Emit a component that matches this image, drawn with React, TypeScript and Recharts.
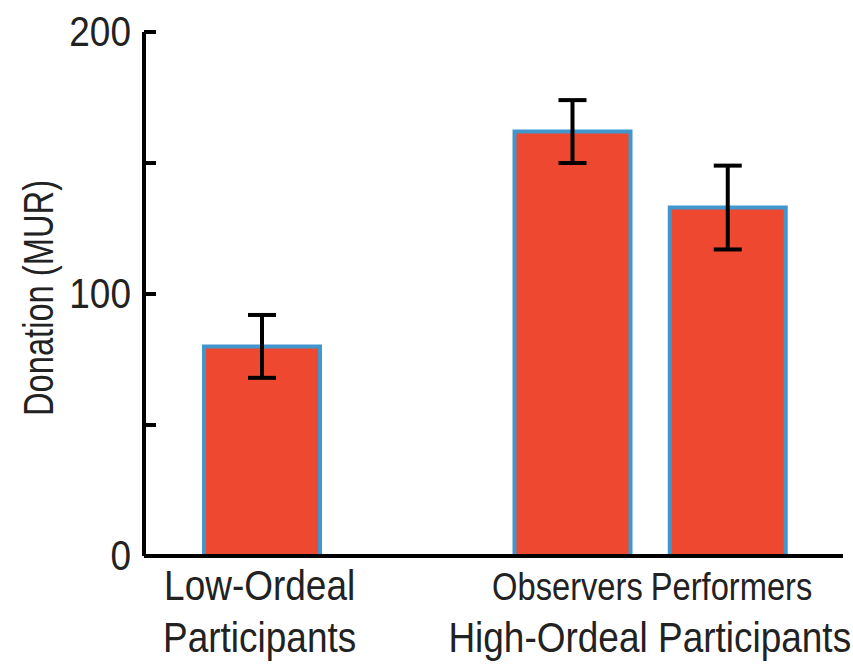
import { BarChart, Bar, XAxis, YAxis, ErrorBar } from "recharts"

// categories (one empty slot keeps the gap between the two groups)
const categories = ["low", "gap", "observers", "performers"]
const donations = [80, null, 162, 133]
const errors = [12, null, 12, 16]
const labelLine1 = ["Low-Ordeal", "", "Observers", "Performers"]
const labelLine2 = ["Participants", "", "", ""]
const groupLabel = "High-Ordeal Participants"
const yTicks = [0, 50, 100, 150, 200]
const yLabeled = [0, 100, 200]

const data = categories.map((c, i) => ({
  cat: c,
  donation: donations[i],
  err: errors[i],
}))

const FONT = "'Liberation Sans', Arial, sans-serif"
const TEXT = "#222"

// no narrow font installed, so squeeze the regular one horizontally
const Narrow = ({ x, y, anchor = "middle", rotate = 0, sx = 0.86, size = 43, children }: any) => (
  <g transform={`translate(${x},${y}) rotate(${rotate}) scale(${sx},1)`}>
    <text x={0} y={0} textAnchor={anchor} fontFamily={FONT} fontSize={size} fill={TEXT}>
      {children}
    </text>
  </g>
)

const XTick = ({ x, y, payload }: any) => {
  const i = payload.index
  const half = payload.offset || 77
  const cat = categories[i]
  // the two sub-labels sit in a smaller size, pushed apart to their band edges
  if (cat === "observers") {
    return (
      <g>
        <Narrow x={x + half - 7} y={y + 44} anchor="end" size={38}>{labelLine1[i]}</Narrow>
        <Narrow x={x + half} y={y + 96}>{groupLabel}</Narrow>
      </g>
    )
  }
  if (cat === "performers") {
    return <Narrow x={x - half + 1} y={y + 44} anchor="start" size={38}>{labelLine1[i]}</Narrow>
  }
  return (
    <g>
      {labelLine1[i] && <Narrow x={x - 2} y={y + 44}>{labelLine1[i]}</Narrow>}
      {labelLine2[i] && <Narrow x={x - 2} y={y + 96}>{labelLine2[i]}</Narrow>}
    </g>
  )
}

const YTick = ({ x, y, payload }: any) => (
  <g>
    <line x1={x} y1={y} x2={x + 12} y2={y} stroke="#000" strokeWidth={4} />
    {yLabeled.includes(payload.value) && (
      <Narrow x={x - 13} y={y + 14} anchor="end">{payload.value}</Narrow>
    )}
  </g>
)

const YLabel = ({ viewBox }: any) => {
  const cx = 53
  const cy = viewBox.y + viewBox.height / 2 + 4
  return (
    <Narrow x={cx} y={cy} rotate={-90} sx={0.76}>
      Donation (MUR)
    </Narrow>
  )
}

export default function App() {
  return (
    <div style={{ position: "absolute", left: 0, top: 0, background: "#fff" }}>
      <BarChart
        width={853}
        height={664}
        data={data}
        margin={{ top: 32, right: 10, bottom: 0, left: 0 }}
      >
        <XAxis
          dataKey="cat"
          height={108}
          axisLine={{ stroke: "#000", strokeWidth: 4 }}
          tickLine={false}
          tickSize={0}
          tickMargin={0}
          tick={<XTick />}
          interval={0}
          padding={{ left: 40, right: 38 }}
        />
        <YAxis
          width={144}
          domain={[0, 200]}
          ticks={yTicks}
          interval={0}
          axisLine={{ stroke: "#000", strokeWidth: 4 }}
          tickLine={false}
          tickSize={0}
          tickMargin={0}
          tick={<YTick />}
          label={<YLabel />}
        />
        <Bar
          dataKey="donation"
          barSize={116}
          fill="#EE4830"
          stroke="#4196CD"
          strokeWidth={4}
          isAnimationActive={false}
        >
          <ErrorBar
            dataKey="err"
            direction="y"
            width={14}
            stroke="#000"
            strokeWidth={4}
            isAnimationActive={false}
          />
        </Bar>
      </BarChart>
    </div>
  )
}
